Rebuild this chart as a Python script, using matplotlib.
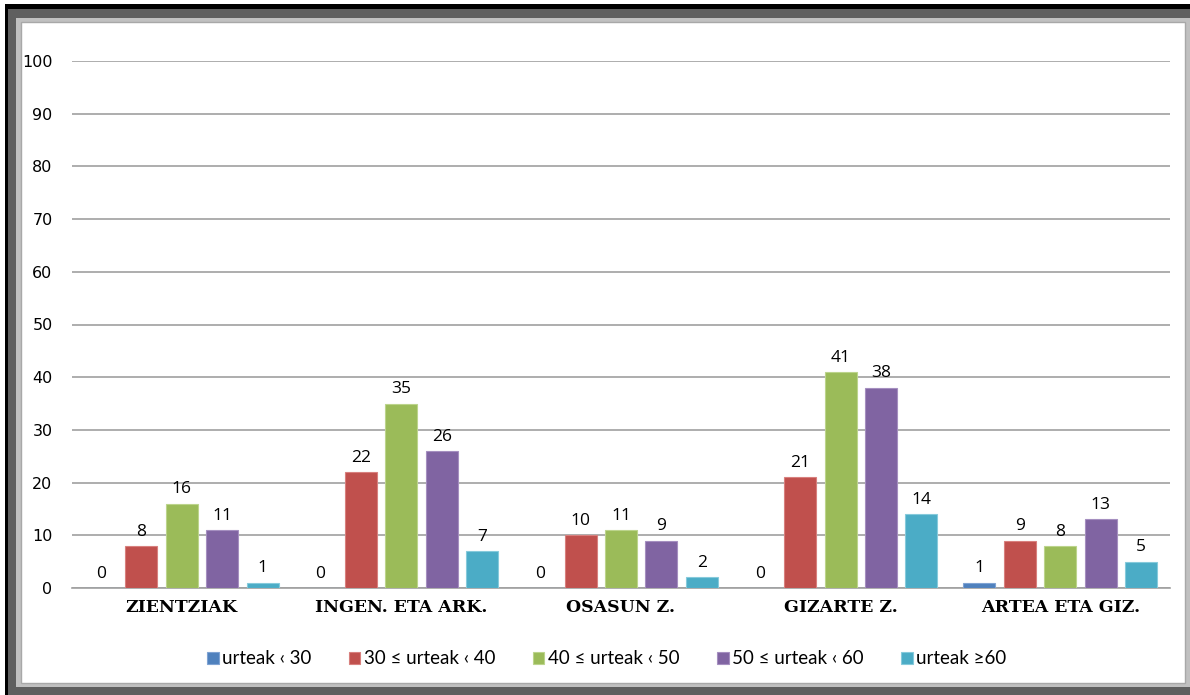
import numpy as np
import matplotlib.pyplot as plt
from matplotlib.patches import Rectangle

# datuak
categories = ['ZIENTZIAK', 'INGEN. ETA ARK.', 'OSASUN Z.', 'GIZARTE Z.', 'ARTEA ETA GIZ.']
series_labels = ['urteak \u2039 30', '30 \u2264 urteak \u2039 40', '40 \u2264 urteak \u2039 50',
                 '50 \u2264 urteak \u2039 60', 'urteak \u226560']
u30 = [0, 0, 0, 0, 1]
u30_40 = [8, 22, 10, 21, 9]
u40_50 = [16, 35, 11, 41, 8]
u50_60 = [11, 26, 9, 38, 13]
u60 = [1, 7, 2, 14, 5]
yticks = [0, 10, 20, 30, 40, 50, 60, 70, 80, 90, 100]

colors = ['#4F81BD', '#C0504D', '#9BBB59', '#8064A2', '#4BACC6']
edges = ['#7FA3D3', '#D8807E', '#BCD48C', '#A58FC0', '#86CADB']

W, H = 1190, 695
fig = plt.figure(figsize=(W / 100, H / 100), dpi=100)
fig.patch.set_facecolor('white')


def box(x0, y0, x1, y1, fc, ec='none', lw=0, z=-5):
    # pixel coords, origin top-left
    r = Rectangle((x0 / W, 1 - y1 / H), (x1 - x0) / W, (y1 - y0) / H,
                  transform=fig.transFigure, facecolor=fc, edgecolor=ec, lw=lw, zorder=z)
    fig.patches.append(r)


# marko
box(5, 4, W + 2, H + 2, 'black', z=-5)
box(8, 9, W + 2, H + 2, '#5F5F5F', z=-4)
box(16, 18, W + 2, 687, '#C0C0C0', z=-3)
box(21, 22, 1185, 683, 'white', '#A8A8A8', 1.0, z=-2)

ax = fig.add_axes([72 / W, (H - 588) / H, (1170 - 72) / W, (588 - 61) / H])
ax.set_zorder(2)
ax.set_facecolor('none')

data = [u30, u30_40, u40_50, u50_60, u60]
x = np.arange(len(categories))
step = 0.184
width = 0.146
for i, vals in enumerate(data):
    pos = x + (i - 2) * step
    ax.bar(pos, vals, width, color=colors[i], edgecolor=edges[i], lw=0.8,
           label=series_labels[i], zorder=3)
    for p, v in zip(pos, vals):
        ax.text(p, v + 1.2, str(v), ha='center', va='bottom', fontsize=12.5,
                family=['Open Sans', 'DejaVu Sans'], color='black')

ax.set_xlim(-0.5, len(categories) - 0.5)
ax.set_ylim(0, 100)
ax.set_yticks(yticks)
ax.yaxis.grid(True, color='#A0A0A0', lw=1.2, zorder=0)
ax.set_axisbelow(True)
for s in ['top', 'right', 'left']:
    ax.spines[s].set_visible(False)
ax.spines['bottom'].set_color('#A0A0A0')
ax.spines['bottom'].set_linewidth(1.2)
ax.tick_params(axis='y', length=0, pad=14, labelsize=11.5)
ax.tick_params(axis='x', length=0, pad=8)
ax.set_xticks(x)
ax.set_xticklabels(categories, fontsize=12.5, fontweight='bold', family='DejaVu Serif')
for t in ax.get_yticklabels():
    t.set_family('DejaVu Sans')

leg = fig.legend(loc='center', bbox_to_anchor=(607 / W, 1 - 659 / H), ncol=5, frameon=False,
                 prop={'family': ['Lato', 'DejaVu Sans'], 'size': 13.5},
                 handlelength=0.6, handleheight=0.6, handletextpad=0.2, columnspacing=2.0)
leg.set_zorder(3)

fig.savefig('out.png', dpi=100)
